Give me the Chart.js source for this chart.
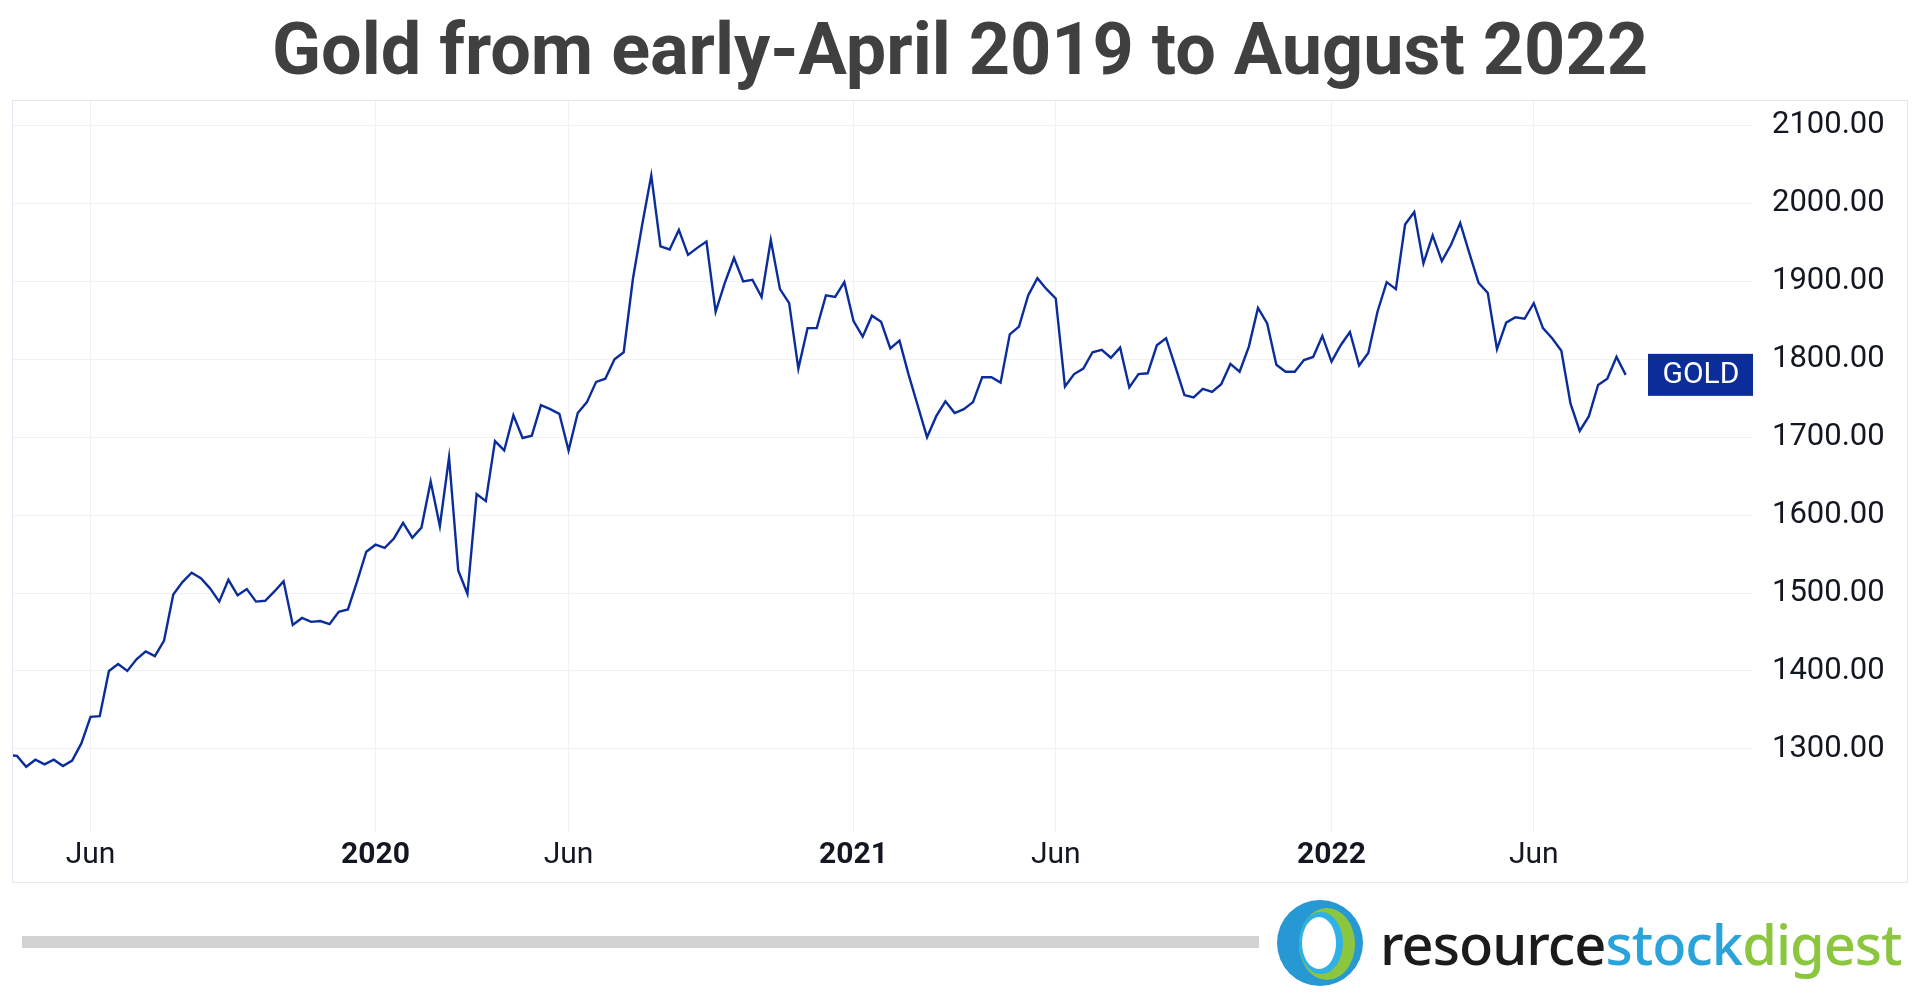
<!DOCTYPE html>
<html>
<head>
<meta charset="utf-8">
<script src="https://cdn.jsdelivr.net/npm/chart.js@4.4.1/dist/chart.umd.min.js"></script>
<style>
  html, body { margin: 0; padding: 0; background: #fff; }
  body { width: 1920px; height: 999px; position: relative; overflow: hidden; font-family: Roboto, sans-serif; }
  #title { position: absolute; left: 0; top: 12px; width: 1920px; text-align: center;
           font: 700 72px Roboto, sans-serif; color: #404040; line-height: 76px; }
  #box { position: absolute; left: 12px; top: 100px; width: 1894px; height: 781px;
         border: 1px solid #e3e6ee; }
  #wrap { position: absolute; left: 13px; top: 82px; width: 1893px; height: 799px; }
  #bar { position: absolute; left: 22px; top: 936px; width: 1237px; height: 12px; background: #d3d3d3; }
  #logo { position: absolute; left: 1275px; top: 897px; }
  #brand { position: absolute; left: 1380px; top: 905px; font: 500 56px "Noto Sans", sans-serif; letter-spacing: -1px; color: #1b1b1b; }
  #brand .s { color: #2aa2da; }
  #brand .d { color: #8cc63f; }
</style>
</head>
<body>
<div id="title">Gold from early-April 2019 to August 2022</div>
<div id="box"></div>
<div id="wrap"><canvas id="chart"></canvas></div>
<div id="bar"></div>
<svg id="logo" width="92" height="92" viewBox="0 0 92 92">
  <circle cx="45" cy="46" r="43" fill="#2699d4"/>
  <ellipse cx="52" cy="47" rx="28" ry="36" fill="#8cc63f"/>
  <ellipse cx="46" cy="46" rx="22" ry="31" fill="#2fb0e6"/>
  <ellipse cx="44" cy="46" rx="17" ry="26" fill="#fff"/>
</svg>
<div id="brand">resource<span class="s">stock</span><span class="d">digest</span></div>

<script>
// weekly gold closes (first one sits just left of the plot edge)
var goldPrice = [
    1292,
    1291, 1277, 1286, 1280, 1286, 1278, 1285, 1307, 1341, 1342,
    1400, 1409, 1400, 1415, 1425, 1419, 1439, 1498, 1514, 1526,
    1519, 1506, 1489, 1517, 1497, 1505, 1489, 1490, 1502,
    1515, 1459, 1468, 1463, 1464, 1460, 1476, 1479, 1515, 1553,
    1562, 1558, 1570, 1590, 1571, 1584, 1643, 1586, 1674, 1529,
    1499, 1627, 1618, 1695, 1683, 1728, 1699, 1702, 1741,
    1736, 1730, 1683, 1731, 1745, 1771, 1775, 1800, 1809, 1903,
    1972, 2036, 1945, 1941, 1966, 1934, 1943, 1951, 1861, 1898,
    1930, 1900, 1902, 1880, 1953, 1890, 1872, 1788,
    1840, 1840, 1882, 1880, 1899, 1849, 1829, 1856, 1848, 1814,
    1824, 1780, 1740, 1700, 1727, 1746, 1731, 1736, 1745, 1777,
    1777, 1770, 1832, 1842, 1882, 1904, 1890, 1878,
    1765, 1781, 1788, 1809, 1812, 1802, 1815, 1764, 1781, 1782,
    1818, 1827, 1791, 1754, 1751, 1762, 1758, 1768, 1794, 1784,
    1816, 1866, 1846, 1793, 1784, 1784, 1799, 1803, 1830,
    1797, 1818, 1835, 1792, 1808, 1861, 1899, 1890, 1973, 1989,
    1923, 1959, 1926, 1947, 1975, 1936, 1898, 1885, 1813, 1847,
    1854, 1852, 1872, 1840, 1827, 1811, 1743, 1708, 1727, 1767,
    1775, 1803, 1780
];

// week index where each month label sits
var tickWeeks = [9, 40, 61, 92, 114, 144, 166];
var tickLabels = ['Jun', '2020', 'Jun', '2021', 'Jun', '2022', 'Jun'];
var yTicks = [1300, 1400, 1500, 1600, 1700, 1800, 1900, 2000, 2100];

var seriesName = 'GOLD';
var lineColor = '#0b2d9a';

var points = [];
for (var i = 0; i < goldPrice.length; i++) {
    points.push({ x: i, y: goldPrice[i] });
}

var lastLabel = {
    id: 'lastLabel',
    afterDatasetsDraw: function(chart) {
        var ctx = chart.ctx;
        var area = chart.chartArea;
        var y = chart.scales.y.getPixelForValue(goldPrice[goldPrice.length - 1]);
        ctx.save();
        ctx.fillStyle = lineColor;
        ctx.fillRect(area.right - 105, y - 21, 105, 42);
        ctx.fillStyle = '#fff';
        ctx.font = '400 30px Roboto';
        ctx.textAlign = 'center';
        ctx.textBaseline = 'middle';
        ctx.fillText(seriesName, area.right - 52, y + 1);
        ctx.restore();
    }
};

new Chart(document.getElementById('chart'), {
    type: 'line',
    data: {
        datasets: [{
            label: seriesName,
            data: points,
            borderColor: lineColor,
            borderWidth: 2.4,
            pointRadius: 0,
            tension: 0,
            fill: false
        }]
    },
    options: {
        responsive: true,
        maintainAspectRatio: false,
        animation: false,
        layout: { padding: 0 },
        plugins: { legend: { display: false }, tooltip: { enabled: false } },
        scales: {
            x: {
                type: 'linear',
                min: 0.565,
                max: 189.85,
                afterBuildTicks: function(axis) {
                    axis.ticks = tickWeeks.map(function(v) { return { value: v }; });
                },
                afterFit: function(axis) { axis.height = 48; },
                grid: { color: '#f0f1f5', drawTicks: false, lineWidth: 1 },
                border: { display: false },
                ticks: {
                    autoSkip: false,
                    maxRotation: 0,
                    padding: 4,
                    color: '#131722',
                    font: function(c) {
                        var lab = tickLabels[tickWeeks.indexOf(c.tick ? c.tick.value : -1)];
                        return { family: 'Roboto', size: 30, weight: (lab && lab !== 'Jun') ? 'bold' : 'normal' };
                    },
                    callback: function(v) { return tickLabels[tickWeeks.indexOf(v)]; }
                }
            },
            y: {
                position: 'right',
                min: 1192,
                max: 2132,
                afterBuildTicks: function(axis) {
                    axis.ticks = yTicks.map(function(v) { return { value: v }; });
                },
                afterFit: function(axis) { axis.width = 153; },
                grid: { color: '#f0f1f5', drawTicks: true, tickLength: 19, tickColor: 'rgba(0,0,0,0)', lineWidth: 1 },
                border: { display: false },
                ticks: {
                    padding: 0,
                    color: '#131722',
                    font: { family: 'Roboto', size: 31 },
                    callback: function(v) { return v.toFixed(2); }
                }
            }
        }
    },
    plugins: [lastLabel]
});
</script>
</body>
</html>
